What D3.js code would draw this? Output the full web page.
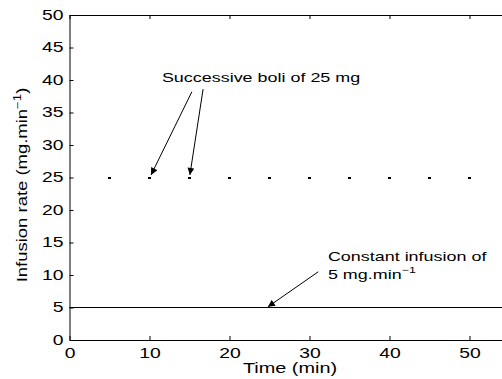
<!DOCTYPE html>
<html><head><meta charset="utf-8">
<script src="https://cdn.jsdelivr.net/npm/d3@7/dist/d3.min.js"></script>
<style>
html,body{margin:0;padding:0;background:#fff;}
svg{display:block;}
text{font-family:"Liberation Sans",Arial,Helvetica,sans-serif;fill:#000;}
</style></head>
<body>
<script>
// ---- data ----
const bolusTimes = [5, 10, 15, 20, 25, 30, 35, 40, 45, 50];
const bolusDose = [25, 25, 25, 25, 25, 25, 25, 25, 25, 25];
const infusionTimes = [0, 55];
const infusionRate = [5, 5];
const xTicks = [0, 10, 20, 30, 40, 50];
const yTicks = [0, 5, 10, 15, 20, 25, 30, 35, 40, 45, 50];
const xDomain = [0, 55];
const yDomain = [0, 50];
const xLabel = "Time (min)";
const yLabel = "Infusion rate (mg.min";
const bolusText = "Successive boli of 25 mg";
const infusionText1 = "Constant infusion of";
const infusionText2 = "5 mg.min";
// annotation anchors (data units): [textX, textY], arrows [fromX, fromY, toX, toY]
const bolusTextPos = [11.55, 39.7];
const bolusArrows = [[15.3, 38.2, 10.2, 25.4], [16.7, 38.6, 15.05, 25.4]];
const infTextPos = [32.3, 12.2];
const infArrow = [31.1, 10.5, 24.8, 5.1];

const W = 502, H = 379;
const SX = 1.38; // horizontal glyph stretch
const svg = d3.select("body").append("svg").attr("width", W).attr("height", H);

const x = d3.scaleLinear().domain(xDomain).range([69.5, 69.5 + 8 * 55]);
const y = d3.scaleLinear().domain(yDomain).range([340, 15]);

svg.append("defs").append("marker")
  .attr("id", "ah").attr("viewBox", "0 0 10 10").attr("refX", 10).attr("refY", 5)
  .attr("markerWidth", 8).attr("markerHeight", 7).attr("markerUnits", "userSpaceOnUse")
  .attr("orient", "auto")
  .append("path").attr("d", "M0,0 L10,5 L0,10 z").attr("fill", "#000");

// axes
const fs = 14;
const gx = svg.append("g").attr("transform", `translate(0,${y(0)})`)
  .call(d3.axisBottom(x).tickValues(xTicks).tickSizeInner(-4).tickSizeOuter(0).tickPadding(8));
const gxt = svg.append("g").attr("transform", `translate(0,${y(50)})`)
  .call(d3.axisTop(x).tickValues(xTicks).tickSizeInner(-4).tickSizeOuter(0).tickFormat(""));
const gy = svg.append("g").attr("transform", `translate(${x(0)},0)`)
  .call(d3.axisLeft(y).tickValues(yTicks).tickSizeInner(-4).tickSizeOuter(0).tickPadding(6));
const gyr = svg.append("g").attr("transform", `translate(${x(55)},0)`)
  .call(d3.axisRight(y).tickValues(yTicks).tickSizeInner(-4).tickSizeOuter(0).tickFormat(""));
[gx, gxt, gy, gyr].forEach(g => {
  g.selectAll("path,line").attr("stroke", "#000").attr("stroke-width", 1);
  g.selectAll("text").attr("font-size", fs).attr("font-family", '"Liberation Sans",Arial,sans-serif').attr("fill", "#000");
});
gx.selectAll(".tick text").attr("transform", `scale(${SX},1)`);
gy.selectAll(".tick text").attr("x", -6 / SX).attr("transform", `scale(${SX},1)`);

// infusion line
svg.append("path")
  .datum(infusionTimes.map((t, i) => [t, infusionRate[i]]))
  .attr("d", d3.line().x(d => x(d[0])).y(d => y(d[1])))
  .attr("stroke", "#000").attr("stroke-width", 1).attr("fill", "none");

// bolus dots
svg.selectAll("rect.bolus").data(bolusTimes).join("rect")
  .attr("class", "bolus")
  .attr("x", d => x(d) - 1.5).attr("y", (d, i) => y(bolusDose[i]) - 0.5)
  .attr("width", 3).attr("height", 2).attr("fill", "#000");

// annotations
function stretchedText(px, py, sx) {
  return svg.append("text").attr("transform", `translate(${px},${py}) scale(${sx},1)`)
    .attr("font-size", 13);
}
stretchedText(x(bolusTextPos[0]), y(bolusTextPos[1]), SX).text(bolusText);
bolusArrows.forEach(a => {
  svg.append("line").attr("x1", x(a[0])).attr("y1", y(a[1])).attr("x2", x(a[2])).attr("y2", y(a[3]))
    .attr("stroke", "#000").attr("stroke-width", 1).attr("marker-end", "url(#ah)");
});
stretchedText(x(infTextPos[0]), y(infTextPos[1]), SX).text(infusionText1);
const t2 = stretchedText(x(infTextPos[0]), y(infTextPos[1]) + 18.5, SX);
t2.append("tspan").text(infusionText2);
t2.append("tspan").attr("dy", -6).attr("font-size", 9).text("\u22121");
svg.append("line").attr("x1", x(infArrow[0])).attr("y1", y(infArrow[1])).attr("x2", x(infArrow[2])).attr("y2", y(infArrow[3]))
  .attr("stroke", "#000").attr("stroke-width", 1).attr("marker-end", "url(#ah)");

// axis labels
svg.append("text").attr("transform", `translate(290,373) scale(1.42,1)`)
  .attr("font-size", 14).attr("text-anchor", "middle").text(xLabel);
const yl = svg.append("text").attr("transform", `translate(27,185) rotate(-90) scale(1.32,1)`)
  .attr("font-size", 14).attr("text-anchor", "middle");
yl.append("tspan").text(yLabel);
yl.append("tspan").attr("dy", -6).attr("font-size", 10).text("\u22121");
yl.append("tspan").attr("dy", 6).text(")");
</script>
</body></html>
